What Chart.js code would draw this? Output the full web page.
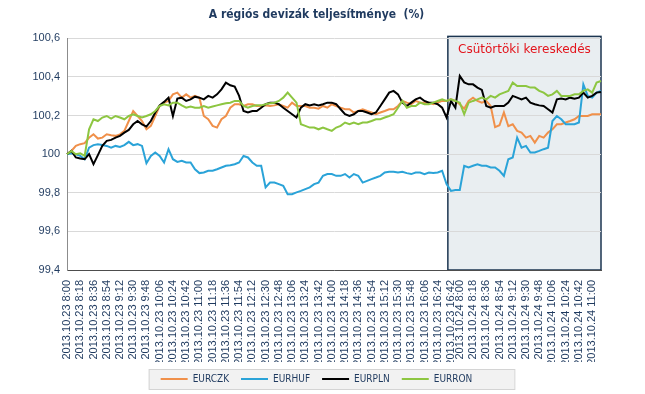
<!DOCTYPE html>
<html lang="hu">
<head>
<meta charset="UTF-8" />
<title>A régiós devizák teljesítménye</title>
<script src="https://cdn.jsdelivr.net/npm/chart.js"></script>
<style>
  html, body { margin: 0; padding: 0; background: #fff; }
</style>
</head>
<body>
<canvas id="chart" width="645" height="394"></canvas>
<script>
// trading days shown on the axis, 6 minute steps
const days = ["2013.10.23", "2013.10.24"];
const dayFirst = ["8:00", "8:00"];
const dayLast = ["16:48", "11:12"];
const stepMin = 6;
const tickEveryMin = 18;

// index performance, 100 = start of 23 Oct
const eurczk = [
  100.000, 100.017, 100.043, 100.052, 100.057, 100.086, 100.103, 100.081, 100.086, 100.103, 100.098,
  100.095, 100.103, 100.121, 100.172, 100.224, 100.198, 100.172, 100.129, 100.147, 100.198, 100.250,
  100.267, 100.276, 100.310, 100.319, 100.293, 100.310, 100.293, 100.302, 100.293,
  100.198, 100.181, 100.147, 100.138, 100.181, 100.198, 100.241, 100.259, 100.259, 100.250, 100.259,
  100.259, 100.250, 100.250, 100.253, 100.250, 100.253, 100.259, 100.250, 100.241, 100.267, 100.250,
  100.250, 100.250, 100.241, 100.241, 100.236, 100.250, 100.241, 100.259, 100.250,
  100.241, 100.233, 100.233, 100.216, 100.224, 100.233, 100.224, 100.216, 100.207, 100.216, 100.224,
  100.233, 100.233, 100.250, 100.276, 100.267, 100.259, 100.276, 100.267, 100.267, 100.267, 100.259,
  100.267, 100.276, 100.276, 100.284, 100.276, 100.259, 100.236, 100.276,
  100.293, 100.276, 100.267, 100.276, 100.250, 100.140, 100.150, 100.216, 100.145, 100.155, 100.121,
  100.112, 100.086, 100.095, 100.060, 100.095, 100.086, 100.112, 100.129, 100.155, 100.155, 100.164,
  100.172, 100.181, 100.198, 100.198, 100.198, 100.207, 100.207, 100.207
];
const eurhuf = [
  100.000, 100.005, 100.000, 99.991, 99.974, 100.034, 100.047, 100.052, 100.048, 100.043, 100.034,
  100.043, 100.038, 100.047, 100.064, 100.047, 100.052, 100.043, 99.953, 99.991, 100.009, 99.991,
  99.957, 100.026, 99.974, 99.960, 99.966, 99.957, 99.957, 99.922, 99.902,
  99.905, 99.914, 99.914, 99.922, 99.931, 99.940, 99.943, 99.948, 99.957, 99.991, 99.983,
  99.957, 99.940, 99.940, 99.828, 99.853, 99.853, 99.845, 99.836, 99.793, 99.793, 99.802,
  99.810, 99.819, 99.828, 99.845, 99.853, 99.888, 99.897, 99.897, 99.888,
  99.888, 99.897, 99.879, 99.897, 99.888, 99.853, 99.862, 99.871, 99.879, 99.888, 99.905,
  99.909, 99.909, 99.905, 99.909, 99.902, 99.897, 99.905, 99.905, 99.897, 99.905, 99.902,
  99.905, 99.914, 99.845, 99.810, 99.815, 99.815, 99.940, 99.931,
  99.940, 99.948, 99.940, 99.940, 99.931, 99.931, 99.914, 99.888, 99.974, 99.983, 100.086,
  100.034, 100.043, 100.009, 100.009, 100.017, 100.026, 100.034, 100.172, 100.198, 100.181, 100.155,
  100.155, 100.155, 100.164, 100.362, 100.302, 100.293, 100.319, 100.328
];
const eurpln = [
  100.000, 100.017, 99.983, 99.978, 99.974, 100.000, 99.948, 99.995, 100.043, 100.069, 100.074,
  100.086, 100.095, 100.112, 100.126, 100.155, 100.172, 100.155, 100.143, 100.172, 100.216, 100.253,
  100.271, 100.293, 100.198, 100.288, 100.293, 100.276, 100.284, 100.298, 100.293,
  100.284, 100.302, 100.293, 100.310, 100.336, 100.371, 100.357, 100.350, 100.302, 100.224, 100.216,
  100.224, 100.224, 100.241, 100.259, 100.267, 100.267, 100.259, 100.241, 100.224, 100.207, 100.190,
  100.241, 100.259, 100.253, 100.259, 100.253, 100.259, 100.267, 100.267, 100.259,
  100.233, 100.207, 100.198, 100.207, 100.224, 100.224, 100.216, 100.207, 100.216, 100.250, 100.284,
  100.319, 100.328, 100.310, 100.267, 100.250, 100.267, 100.284, 100.293, 100.276, 100.267, 100.267,
  100.259, 100.241, 100.190, 100.276, 100.241, 100.405, 100.372, 100.362,
  100.362, 100.345, 100.333, 100.250, 100.241, 100.250, 100.250, 100.250, 100.267, 100.302, 100.293,
  100.284, 100.293, 100.267, 100.259, 100.253, 100.250, 100.233, 100.216, 100.284, 100.288, 100.284,
  100.293, 100.288, 100.293, 100.319, 100.293, 100.302, 100.319, 100.322
];
const eurron = [
  100.000, 100.017, 100.000, 100.005, 99.991, 100.129, 100.181, 100.172, 100.190, 100.198, 100.184,
  100.198, 100.190, 100.181, 100.198, 100.207, 100.198, 100.190, 100.198, 100.207, 100.224, 100.250,
  100.259, 100.253, 100.267, 100.267, 100.253, 100.241, 100.247, 100.241, 100.241,
  100.250, 100.241, 100.247, 100.253, 100.259, 100.264, 100.267, 100.276, 100.276, 100.250, 100.241,
  100.250, 100.253, 100.253, 100.259, 100.264, 100.267, 100.276, 100.293, 100.319, 100.293, 100.267,
  100.155, 100.147, 100.138, 100.138, 100.129, 100.138, 100.129, 100.121, 100.138,
  100.147, 100.164, 100.155, 100.164, 100.155, 100.164, 100.164, 100.172, 100.181, 100.181, 100.190,
  100.198, 100.207, 100.241, 100.276, 100.241, 100.250, 100.250, 100.267, 100.259, 100.259, 100.267,
  100.276, 100.284, 100.276, 100.284, 100.276, 100.267, 100.207, 100.267,
  100.276, 100.284, 100.293, 100.284, 100.302, 100.293, 100.310, 100.319, 100.328, 100.371, 100.353,
  100.353, 100.353, 100.345, 100.345, 100.328, 100.319, 100.302, 100.310, 100.328, 100.302, 100.302,
  100.302, 100.310, 100.310, 100.328, 100.336, 100.319, 100.371, 100.379
];

const seriesNames = ["EURCZK", "EURHUF", "EURPLN", "EURRON"];
const seriesColors = ["#f0904a", "#2aa3d8", "#000000", "#8dc641"];
const yTicks = [99.4, 99.6, 99.8, 100, 100.2, 100.4, 100.6];
const noteText = "Csütörtöki kereskedés";
const noteFromLabel = "2013.10.23 16:36";

function toMin(t) {
  const p = t.split(":");
  return +p[0] * 60 + +p[1];
}

// build "yyyy.mm.dd h:mm" labels
const labels = [];
const showTick = [];
days.forEach((d, k) => {
  const a = toMin(dayFirst[k]);
  const b = toMin(dayLast[k]);
  for (let m = a; m <= b; m += stepMin) {
    const mm = String(m % 60).padStart(2, "0");
    labels.push(d + " " + Math.floor(m / 60) + ":" + mm);
    showTick.push((m - a) % tickEveryMin === 0);
  }
});

const labelFont = "'Liberation Sans', Arial, sans-serif";
const condFont = "'DejaVu Sans Condensed', 'Liberation Sans', sans-serif";
const textColor = "#1f3a5f";

// shaded box for the thursday session + frame round the legend
const boxPlugin = {
  id: "thursdayBox",
  beforeDraw(chart) {
    const { ctx, chartArea, scales } = chart;
    const x0 = scales.x.getPixelForValue(labels.indexOf(noteFromLabel) + 0.3);
    ctx.save();
    ctx.fillStyle = "#e9eef1";
    ctx.fillRect(x0, chartArea.top - 2, chartArea.right - x0, chartArea.bottom - chartArea.top + 2);
    ctx.strokeStyle = "#1b3550";
    ctx.lineWidth = 1.5;
    ctx.strokeRect(x0, chartArea.top - 2, chartArea.right - x0, chartArea.bottom - chartArea.top + 2);

    const hb = chart.legend.legendHitBoxes;
    if (hb && hb.length) {
      const l = Math.min(...hb.map((h) => h.left)) - 12;
      const r = Math.max(...hb.map((h) => h.left + h.width)) + 42;
      const t = Math.min(...hb.map((h) => h.top)) - 5;
      const btm = Math.max(...hb.map((h) => h.top + h.height)) + 5;
      ctx.fillStyle = "#f2f2f2";
      ctx.fillRect(l, t, r - l, btm - t);
      ctx.strokeStyle = "#d4d4d4";
      ctx.lineWidth = 1;
      ctx.strokeRect(l + 0.5, t + 0.5, r - l, btm - t);
    }
    ctx.restore();
  },
  afterDatasetsDraw(chart) {
    const { ctx, chartArea, scales } = chart;
    const x0 = scales.x.getPixelForValue(labels.indexOf(noteFromLabel) + 0.3);
    ctx.save();
    ctx.fillStyle = "#e3141c";
    ctx.font = "12px 'DejaVu Sans', sans-serif";
    ctx.textAlign = "center";
    ctx.textBaseline = "middle";
    ctx.fillText(noteText, (x0 + chartArea.right) / 2, chartArea.top + 11);
    ctx.restore();
  },
};

const allData = [eurczk, eurhuf, eurpln, eurron];

new Chart(document.getElementById("chart"), {
  type: "line",
  data: {
    labels: labels,
    datasets: seriesNames.map((name, i) => ({
      label: name,
      data: allData[i],
      borderColor: seriesColors[i],
      backgroundColor: seriesColors[i],
      borderWidth: 2,
      pointRadius: 0,
      tension: 0,
      order: 4 - i,
    })),
  },
  options: {
    responsive: false,
    animation: false,
    layout: { padding: { left: 32, right: 44, top: 0, bottom: 0 } },
    plugins: {
      title: {
        display: true,
        text: "A régiós devizák teljesítménye  (%)",
        color: textColor,
        font: { family: condFont, size: 12, weight: "bold" },
        padding: { top: 8, bottom: 16 },
      },
      legend: {
        position: "bottom",
        labels: {
          boxWidth: 27,
          boxHeight: 2,
          padding: 12,
          color: textColor,
          font: { family: condFont, size: 10 },
          sort: (a, b) => a.datasetIndex - b.datasetIndex,
          generateLabels(chart) {
            const items = Chart.defaults.plugins.legend.labels.generateLabels(chart);
            items.forEach((it) => {
              it.lineWidth = 0;
            });
            return items;
          },
        },
      },
      tooltip: { enabled: false },
    },
    scales: {
      x: {
        offset: false,
        grid: { display: false },
        border: { display: true, color: "#4d4d4d", width: 1 },
        ticks: {
          autoSkip: false,
          minRotation: 90,
          maxRotation: 90,
          padding: 2,
          color: textColor,
          font: { family: labelFont, size: 11 },
          callback(val, idx) {
            return showTick[idx] ? labels[idx] : "";
          },
        },
        afterFit(scale) {
          scale.height = 92;
        },
      },
      y: {
        min: yTicks[0],
        max: yTicks[yTicks.length - 1],
        afterBuildTicks(scale) {
          scale.ticks = yTicks.map((v) => ({ value: v }));
        },
        grid: { color: "#d9d9d9", drawTicks: false },
        border: { color: "#8c8c8c" },
        ticks: {
          padding: 7,
          color: textColor,
          font: { family: labelFont, size: 11 },
          callback(v) {
            return Number.isInteger(v) ? String(v) : v.toFixed(1).replace(".", ",");
          },
        },
        afterFit(scale) {
          scale.width = 35;
        },
      },
    },
  },
  plugins: [boxPlugin],
});
</script>
</body>
</html>
